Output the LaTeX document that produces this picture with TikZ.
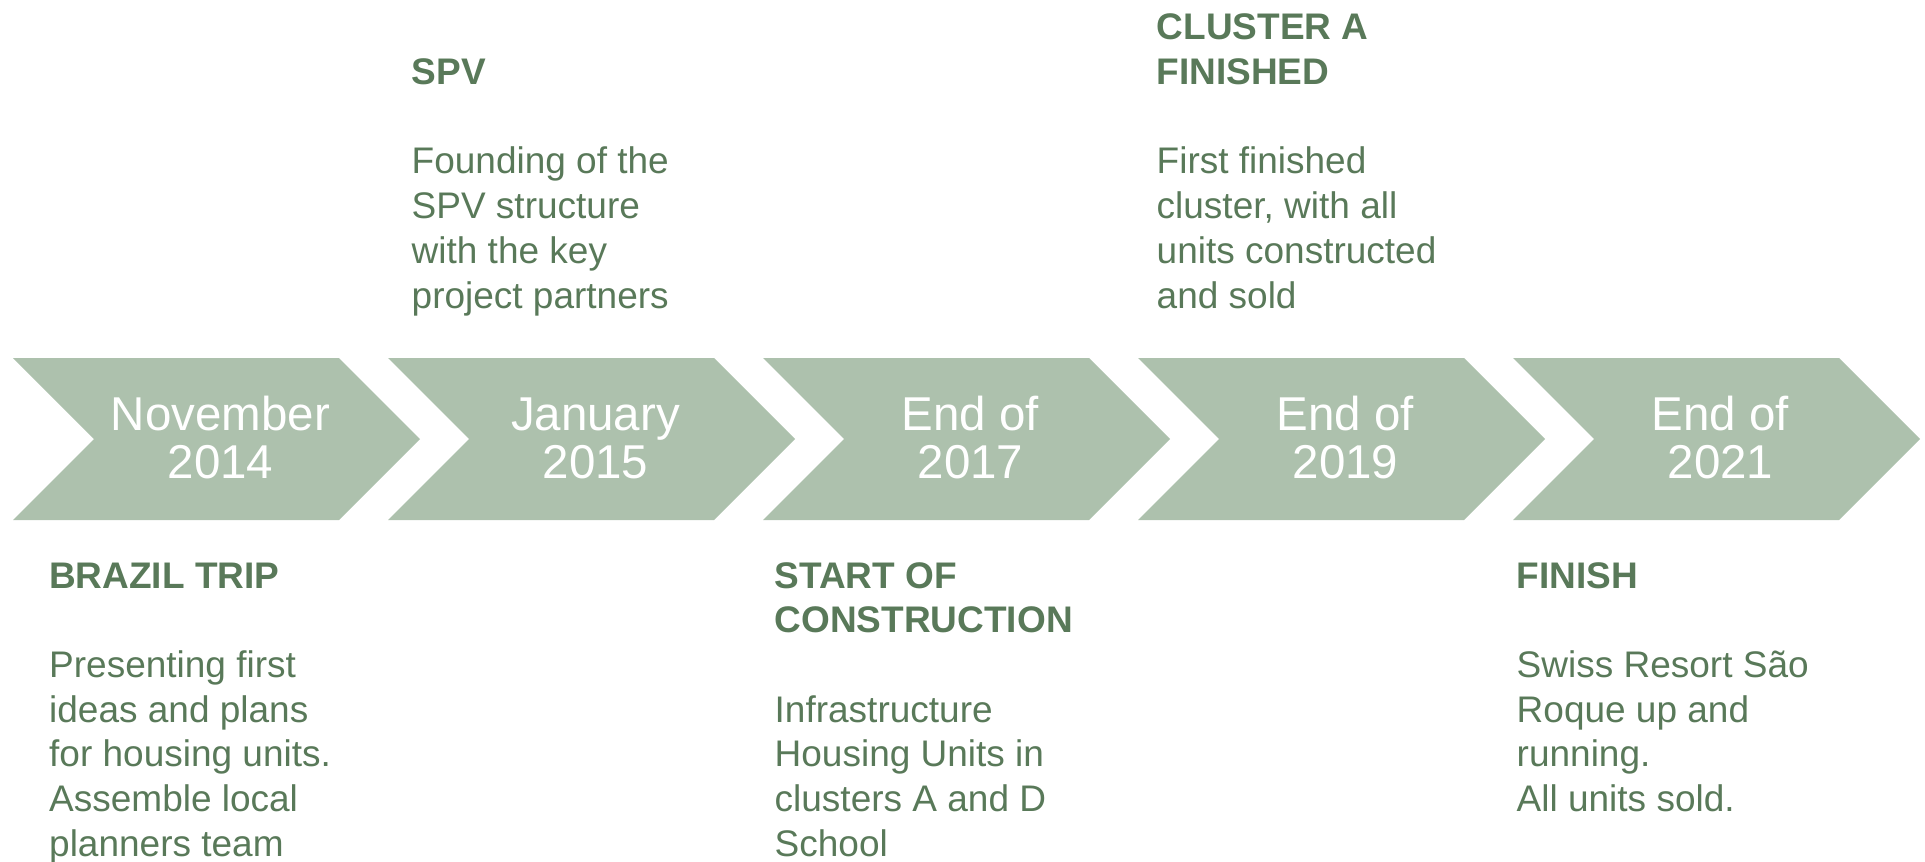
\documentclass[tikz,border=0pt]{standalone}
\usepackage{fontspec}
\setmainfont{Liberation Sans}
\definecolor{chev}{RGB}{173,193,173}
\definecolor{leaf}{RGB}{89,121,89}
% left-aligned block of lines; #1 = t (first baseline) or b (last baseline)
\newcommand\txtblock[2]{\begin{tabular}[#1]{@{}l@{}}#2\end{tabular}}
\begin{document}
\begin{tikzpicture}[x=1pt,y=-1pt,
  chevron/.style={fill=chev,draw=none},
  datelbl/.style={text=white,inner sep=0pt,anchor=base,
    font=\fontsize{47.5}{48}\selectfont},
  note/.style={text=leaf,inner sep=0pt,anchor=base west,
    font=\fontsize{37}{44.7}\selectfont},
]
\useasboundingbox (0,0) rectangle (1925,862);

% the five timeline chevrons with their dates
\foreach \i/\da/\yr [count=\n] in {0/November/2014,1/January/2015,2/End of/2017,3/End of/2019,4/End of/2021}{
  \pgfmathsetmacro\L{13+375*\i}
  \fill[chevron] (\L,358) -- ++(326,0) -- ++(81,81) -- ++(-81,81)
     -- ++(-326,0) -- ++(81,-81) -- cycle;
  \node[datelbl] (date\n) at (\L+207.5,430)
     {\begin{tabular}[t]{@{}c@{}}\da\\\yr\end{tabular}};
}

% milestone descriptions below the chevrons
\node[note] (brazil) at (49,588) {\txtblock{t}{\textbf{BRAZIL TRIP}\\ \\
  Presenting first\\ideas and plans\\for housing units.\\Assemble local\\planners team}};
\node[note] (construction) at (774.5,588) {\txtblock{t}{\textbf{START OF}\\\textbf{CONSTRUCTION}\\ \\
  Infrastructure\\Housing Units in\\clusters A and D\\School}};
\node[note] (finish) at (1516.5,588) {\txtblock{t}{\textbf{FINISH}\\ \\
  Swiss Resort São\\Roque up and\\running.\\All units sold.}};

% milestone descriptions above the chevrons
\node[note] (spv) at (411.5,308) {\txtblock{b}{\textbf{SPV}\\ \\
  Founding of the\\SPV structure\\with the key\\project partners}};
\node[note] (clusterA) at (1156.5,308) {\txtblock{b}{\textbf{CLUSTER A}\\\textbf{FINISHED}\\ \\
  First finished\\cluster, with all\\units constructed\\and sold}};
\end{tikzpicture}
\end{document}
